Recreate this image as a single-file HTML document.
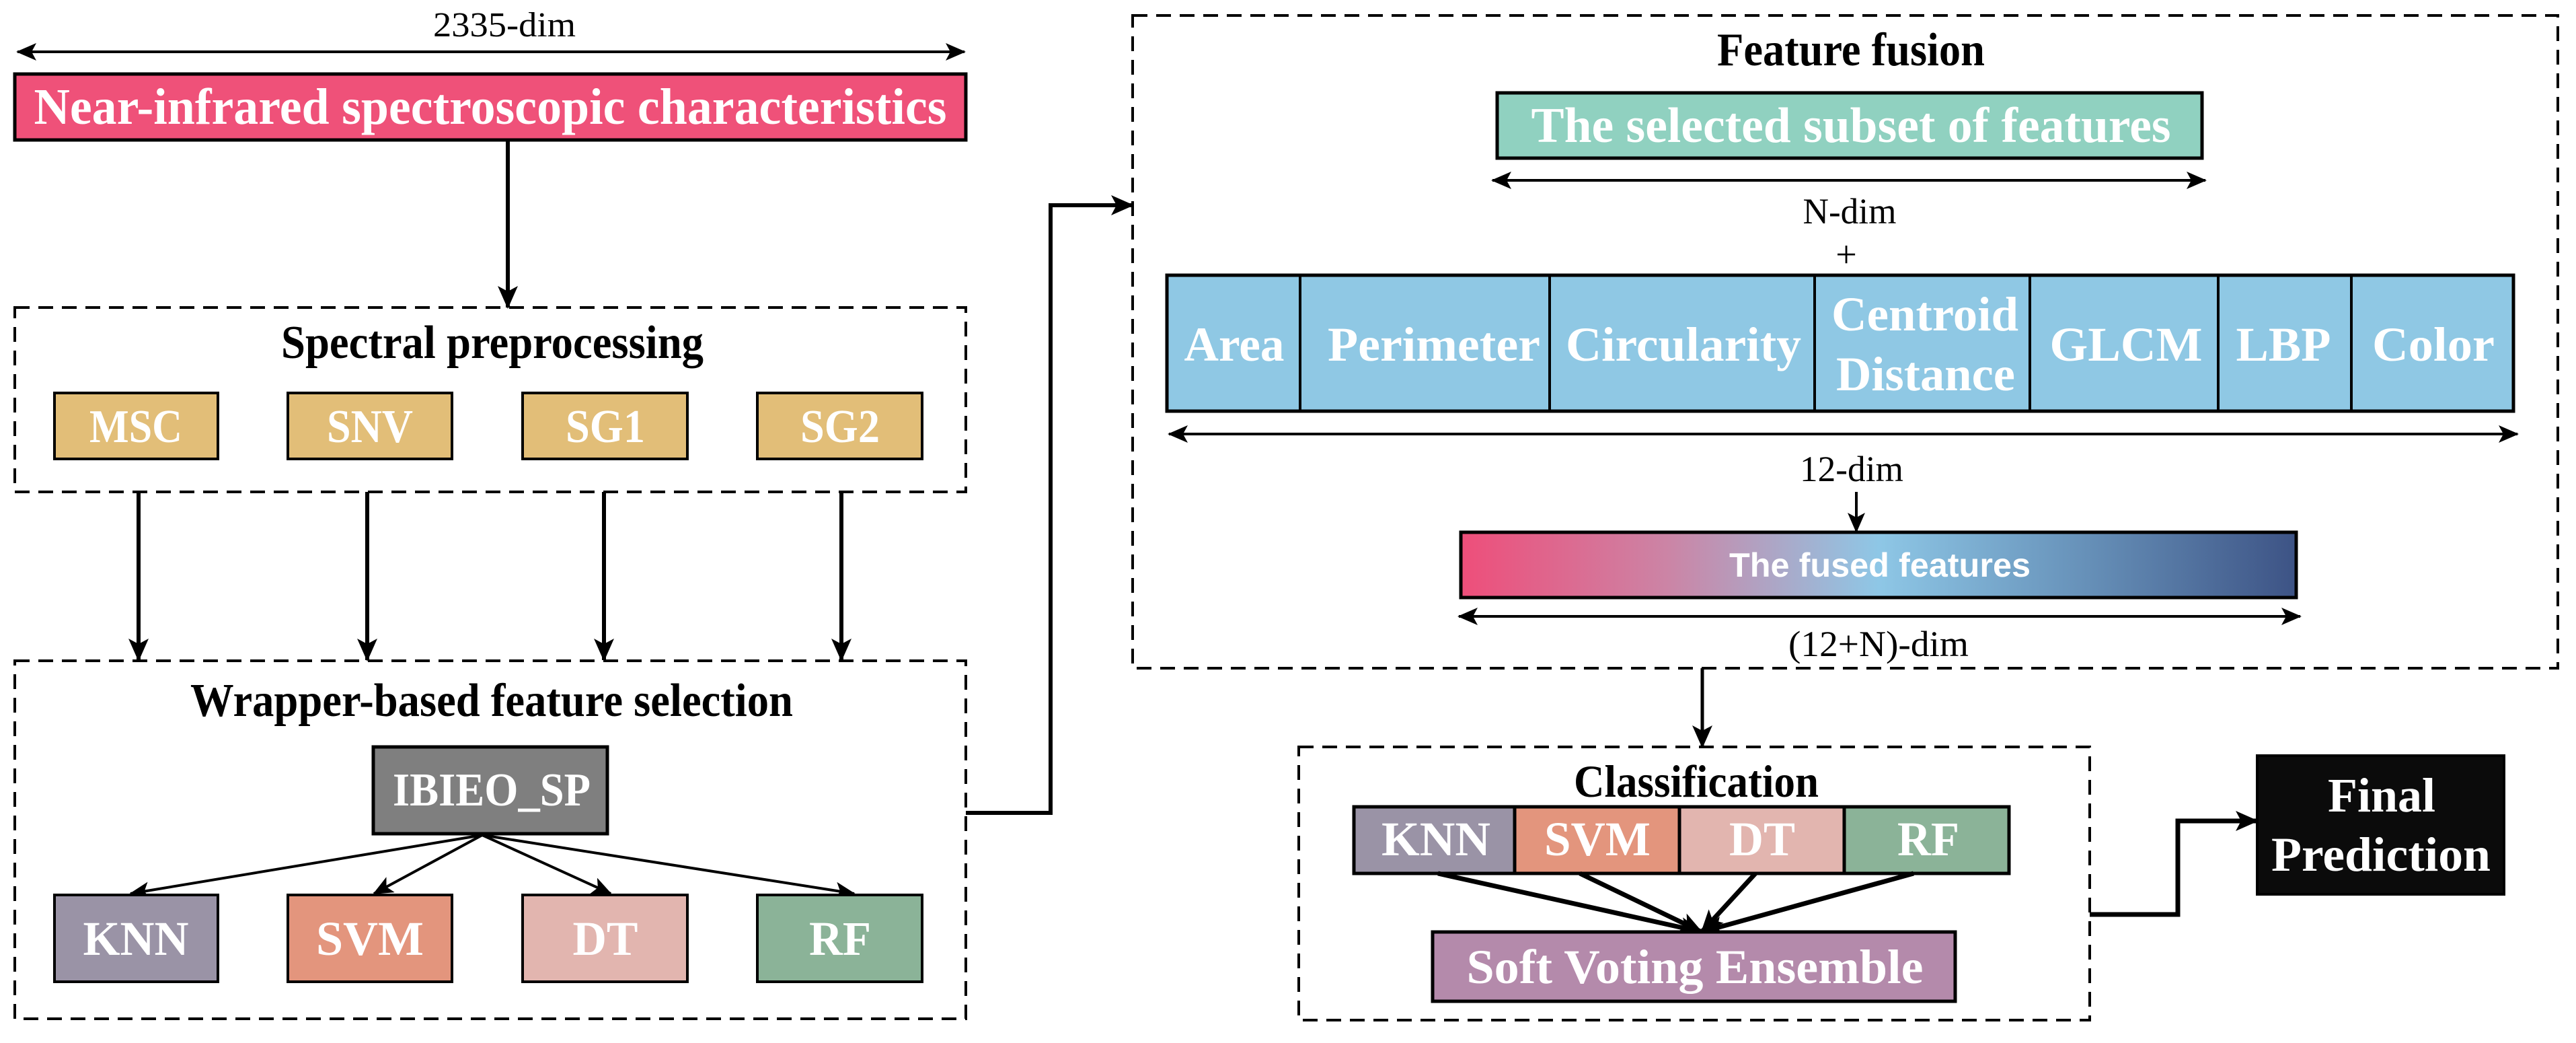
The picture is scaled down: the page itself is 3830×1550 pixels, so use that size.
<!DOCTYPE html>
<html><head><meta charset="utf-8"><style>
html,body{margin:0;padding:0;background:#fff;}
svg{display:block;}
.t{font-family:"Liberation Serif",serif;font-weight:bold;fill:#fff;}
.b{font-family:"Liberation Serif",serif;font-weight:bold;fill:#000;}
.r{font-family:"Liberation Serif",serif;fill:#000;}
</style></head><body>
<svg width="3830" height="1550" viewBox="0 0 3830 1550" xmlns="http://www.w3.org/2000/svg">
<defs>
<marker id="ah" markerUnits="userSpaceOnUse" markerWidth="34" markerHeight="30" refX="32" refY="15" orient="auto-start-reverse" viewBox="0 0 34 30">
<path d="M0,0 L34,15 L0,30 L8,15 z" fill="#000"/></marker>
<marker id="as" markerUnits="userSpaceOnUse" markerWidth="30" markerHeight="26" refX="28" refY="13" orient="auto-start-reverse" viewBox="0 0 30 26">
<path d="M0,0 L30,13 L0,26 L7,13 z" fill="#000"/></marker>
<linearGradient id="fg" x1="0" x2="1" y1="0" y2="0">
<stop offset="0" stop-color="#EE4E7A"/><stop offset="0.25" stop-color="#CB85A6"/><stop offset="0.5" stop-color="#8EC7E6"/><stop offset="0.75" stop-color="#6690B8"/><stop offset="1" stop-color="#3D5385"/>
</linearGradient>
</defs>

<!-- top dim arrow -->
<line x1="26" y1="77" x2="1434" y2="77" stroke="#000" stroke-width="4" marker-start="url(#as)" marker-end="url(#as)"/>
<text class="r" x="750" y="54" font-size="52" text-anchor="middle" textLength="212" lengthAdjust="spacingAndGlyphs">2335-dim</text>

<!-- NIR box -->
<rect x="22" y="110" width="1414" height="98" fill="#EF5179" stroke="#000" stroke-width="5"/>
<text class="t" x="729" y="184" font-size="76" text-anchor="middle" textLength="1357" lengthAdjust="spacingAndGlyphs">Near-infrared spectroscopic characteristics</text>
<line x1="755" y1="208" x2="755" y2="457" stroke="#000" stroke-width="6" marker-end="url(#ah)"/>

<!-- Spectral preprocessing -->
<rect x="22" y="457" width="1414" height="274" fill="none" stroke="#000" stroke-width="4" stroke-dasharray="22,13"/>
<text class="b" x="732" y="532" font-size="70" text-anchor="middle" textLength="628" lengthAdjust="spacingAndGlyphs">Spectral preprocessing</text>
<g stroke="#000" stroke-width="4" fill="#E2BE78">
<rect x="81" y="584" width="243" height="98"/><rect x="428" y="584" width="244" height="98"/>
<rect x="777" y="584" width="245" height="98"/><rect x="1126" y="584" width="245" height="98"/>
</g>
<g class="t" font-size="70" text-anchor="middle">
<text x="202" y="657" textLength="138" lengthAdjust="spacingAndGlyphs">MSC</text>
<text x="550" y="657" textLength="128" lengthAdjust="spacingAndGlyphs">SNV</text>
<text x="900" y="657" textLength="118" lengthAdjust="spacingAndGlyphs">SG1</text>
<text x="1249" y="657" textLength="118" lengthAdjust="spacingAndGlyphs">SG2</text>
</g>
<g stroke="#000" stroke-width="6">
<line x1="206" y1="731" x2="206" y2="981" marker-end="url(#ah)"/>
<line x1="546" y1="731" x2="546" y2="981" marker-end="url(#ah)"/>
<line x1="898" y1="731" x2="898" y2="981" marker-end="url(#ah)"/>
<line x1="1251" y1="731" x2="1251" y2="981" marker-end="url(#ah)"/>
</g>

<!-- Wrapper -->
<rect x="22" y="982" width="1414" height="532" fill="none" stroke="#000" stroke-width="4" stroke-dasharray="22,13"/>
<text class="b" x="731" y="1064" font-size="70" text-anchor="middle" textLength="896" lengthAdjust="spacingAndGlyphs">Wrapper-based feature selection</text>
<rect x="555" y="1110" width="348" height="129" fill="#7F7F7F" stroke="#000" stroke-width="5"/>
<text class="t" x="731" y="1197" font-size="70" text-anchor="middle" textLength="294" lengthAdjust="spacingAndGlyphs">IBIEO_SP</text>
<g stroke="#000" stroke-width="4">
<line x1="717" y1="1241" x2="194" y2="1328" marker-end="url(#as)"/>
<line x1="717" y1="1241" x2="556" y2="1328" marker-end="url(#as)"/>
<line x1="717" y1="1241" x2="908" y2="1328" marker-end="url(#as)"/>
<line x1="717" y1="1241" x2="1270" y2="1328" marker-end="url(#as)"/>
</g>
<g stroke="#000" stroke-width="4">
<rect x="81" y="1330" width="243" height="129" fill="#9A93A6"/>
<rect x="428" y="1330" width="244" height="129" fill="#E3957D"/>
<rect x="777" y="1330" width="245" height="129" fill="#E2B5AF"/>
<rect x="1126" y="1330" width="245" height="129" fill="#8BB398"/>
</g>
<g class="t" font-size="72" text-anchor="middle">
<text x="202" y="1419" textLength="157" lengthAdjust="spacingAndGlyphs">KNN</text>
<text x="550" y="1419" textLength="160" lengthAdjust="spacingAndGlyphs">SVM</text>
<text x="900" y="1419" textLength="97" lengthAdjust="spacingAndGlyphs">DT</text>
<text x="1249" y="1419" textLength="92" lengthAdjust="spacingAndGlyphs">RF</text>
</g>

<!-- connector wrapper -> fusion -->
<polyline points="1436,1208 1562,1208 1562,305 1684,305" fill="none" stroke="#000" stroke-width="6" marker-end="url(#ah)"/>

<!-- Feature fusion -->
<rect x="1684" y="23" width="2119" height="970" fill="none" stroke="#000" stroke-width="4" stroke-dasharray="22,13"/>
<text class="b" x="2752" y="97" font-size="70" text-anchor="middle" textLength="398" lengthAdjust="spacingAndGlyphs">Feature fusion</text>
<rect x="2226" y="138" width="1048" height="97" fill="#90D1C0" stroke="#000" stroke-width="5"/>
<text class="t" x="2752" y="211" font-size="74" text-anchor="middle" textLength="951" lengthAdjust="spacingAndGlyphs">The selected subset of features</text>
<line x1="2219" y1="268" x2="3279" y2="268" stroke="#000" stroke-width="4" marker-start="url(#as)" marker-end="url(#as)"/>
<text class="r" x="2750" y="332" font-size="54" text-anchor="middle" textLength="139" lengthAdjust="spacingAndGlyphs">N-dim</text>
<text class="r" x="2745" y="397" font-size="56" text-anchor="middle">+</text>

<rect x="1735" y="409" width="2002" height="202" fill="#8FC8E4" stroke="#000" stroke-width="5"/>
<g stroke="#000" stroke-width="4">
<line x1="1933" y1="409" x2="1933" y2="611"/><line x1="2304" y1="409" x2="2304" y2="611"/>
<line x1="2698" y1="409" x2="2698" y2="611"/><line x1="3018" y1="409" x2="3018" y2="611"/>
<line x1="3298" y1="409" x2="3298" y2="611"/><line x1="3496" y1="409" x2="3496" y2="611"/>
</g>
<g class="t" font-size="72" text-anchor="middle">
<text x="1835" y="536" textLength="149" lengthAdjust="spacingAndGlyphs">Area</text>
<text x="2132" y="536" textLength="316" lengthAdjust="spacingAndGlyphs">Perimeter</text>
<text x="2503" y="536" textLength="350" lengthAdjust="spacingAndGlyphs">Circularity</text>
<text x="2862" y="491" textLength="278" lengthAdjust="spacingAndGlyphs">Centroid</text>
<text x="2863" y="580" textLength="266" lengthAdjust="spacingAndGlyphs">Distance</text>
<text x="3161" y="536" textLength="227" lengthAdjust="spacingAndGlyphs">GLCM</text>
<text x="3395" y="536" textLength="141" lengthAdjust="spacingAndGlyphs">LBP</text>
<text x="3618" y="536" textLength="182" lengthAdjust="spacingAndGlyphs">Color</text>
</g>
<line x1="1738" y1="645" x2="3743" y2="645" stroke="#000" stroke-width="4" marker-start="url(#as)" marker-end="url(#as)"/>
<text class="r" x="2753" y="715" font-size="54" text-anchor="middle" textLength="154" lengthAdjust="spacingAndGlyphs">12-dim</text>
<line x1="2760" y1="731" x2="2760" y2="790" stroke="#000" stroke-width="4" marker-end="url(#as)"/>
<rect x="2172" y="791" width="1242" height="97" fill="url(#fg)" stroke="#000" stroke-width="5"/>
<text x="2795" y="857" font-family="Liberation Sans, sans-serif" font-weight="bold" font-size="50" fill="#fff" text-anchor="middle" textLength="448" lengthAdjust="spacingAndGlyphs">The fused features</text>
<line x1="2169" y1="916" x2="3420" y2="916" stroke="#000" stroke-width="4" marker-start="url(#as)" marker-end="url(#as)"/>
<text class="r" x="2793" y="975" font-size="54" text-anchor="middle" textLength="268" lengthAdjust="spacingAndGlyphs">(12+N)-dim</text>

<line x1="2531" y1="993" x2="2531" y2="1110" stroke="#000" stroke-width="5" marker-end="url(#ah)"/>

<!-- Classification -->
<rect x="1931" y="1110" width="1176" height="406" fill="none" stroke="#000" stroke-width="4" stroke-dasharray="22,13"/>
<text class="b" x="2522" y="1184" font-size="68" text-anchor="middle" textLength="364" lengthAdjust="spacingAndGlyphs">Classification</text>
<g stroke="#000" stroke-width="5">
<rect x="2013" y="1199" width="239" height="99" fill="#9A93A6"/>
<rect x="2252" y="1199" width="245" height="99" fill="#E3957D"/>
<rect x="2497" y="1199" width="245" height="99" fill="#E2B5AF"/>
<rect x="2742" y="1199" width="245" height="99" fill="#8BB398"/>
</g>
<g class="t" font-size="72" text-anchor="middle">
<text x="2135" y="1271" textLength="162" lengthAdjust="spacingAndGlyphs">KNN</text>
<text x="2375" y="1271" textLength="158" lengthAdjust="spacingAndGlyphs">SVM</text>
<text x="2620" y="1271" textLength="98" lengthAdjust="spacingAndGlyphs">DT</text>
<text x="2867" y="1271" textLength="92" lengthAdjust="spacingAndGlyphs">RF</text>
</g>
<g stroke="#000" stroke-width="7">
<line x1="2138" y1="1298" x2="2530" y2="1385" marker-end="url(#ah)"/>
<line x1="2349" y1="1298" x2="2530" y2="1385" marker-end="url(#ah)"/>
<line x1="2610" y1="1298" x2="2530" y2="1385" marker-end="url(#ah)"/>
<line x1="2845" y1="1298" x2="2530" y2="1385" marker-end="url(#ah)"/>
</g>
<rect x="2130" y="1385" width="777" height="103" fill="#B48AAB" stroke="#000" stroke-width="5"/>
<text class="t" x="2520" y="1461" font-size="72" text-anchor="middle" textLength="679" lengthAdjust="spacingAndGlyphs">Soft Voting Ensemble</text>

<polyline points="3107,1359 3238,1359 3238,1220 3356,1220" fill="none" stroke="#000" stroke-width="7" marker-end="url(#ah)"/>
<rect x="3356" y="1123" width="367" height="206" fill="#0B0B0B" stroke="#000" stroke-width="4"/>
<text class="t" x="3541" y="1206" font-size="72" text-anchor="middle" textLength="160" lengthAdjust="spacingAndGlyphs">Final</text>
<text class="t" x="3540" y="1294" font-size="72" text-anchor="middle" textLength="326" lengthAdjust="spacingAndGlyphs">Prediction</text>
</svg>
</body></html>
